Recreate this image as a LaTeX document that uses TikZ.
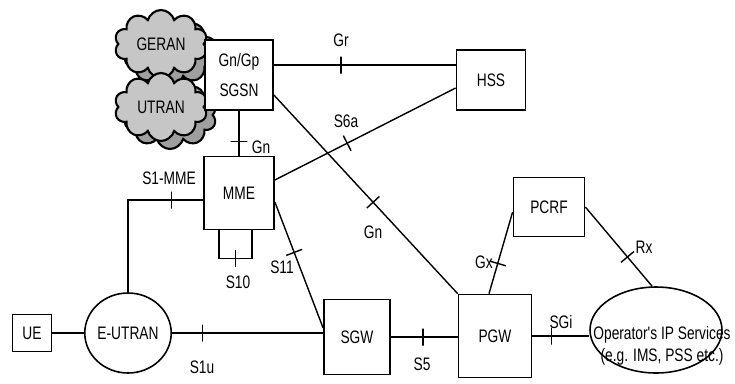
\documentclass[tikz,border=0pt]{standalone}
\usepackage{fontspec}
\setmainfont{Liberation Sans}
\newfontfamily\narrowsf{Liberation Sans}[FakeStretch=0.76]
\usepackage{tikz}
\usetikzlibrary{shapes.geometric,shapes.symbols,calc}

\tikzset{
  box/.style={draw, line width=1pt, fill=white, inner sep=0pt},
  ell/.style={draw, ellipse, line width=0.9pt, inner sep=0pt},
  cld/.style={draw, cloud, cloud puffs=10, cloud ignores aspect, line width=1.2pt,
    fill=gray!45, inner sep=0pt, minimum width=1.86cm, minimum height=1.36cm},
  cldshadow/.style={cld, fill=gray!75},
  link/.style={line width=0.8pt},
  tk/.style={sloped, draw, line width=0.8pt, inner sep=0pt, outer sep=0pt,
    minimum width=0pt, minimum height=0.34cm},
  lbl/.style={inner sep=0pt}
}

\begin{document}
\begin{tikzpicture}[x=0.02cm, y=-0.02cm,
  every node/.style={font=\narrowsf\fontsize{10.3}{12}\selectfont}]

% Frame
\useasboundingbox (0,0) rectangle (735,383);

% Radio clouds (with shadow)
\node[cldshadow] (geranS) at (170,52) {};
\node[cld] (geran) at (161,44) {GERAN};
\node[cldshadow] (utranS) at (170,115) {};
\node[cld] (utran) at (161,107) {UTRAN};

% Core boxes
\node[box, minimum width=1.36cm, minimum height=1.4cm, align=center,
  font=\narrowsf\fontsize{10.3}{17}\selectfont] (sgsn) at (239,75) {Gn/Gp\\SGSN};
\node[box, minimum width=1.38cm, minimum height=1.2cm] (hss) at (491,80) {HSS};
\node[box, minimum width=1.4cm, minimum height=1.46cm] (mme) at (239,193) {MME};
\node[box, minimum width=1.32cm, minimum height=1.5cm] (sgw) at (357,337) {SGW};
\node[box, minimum width=1.46cm, minimum height=1.66cm] (pgw) at (495,336) {PGW};
\node[box, minimum width=0.78cm, minimum height=0.74cm] (ue) at (32,333) {UE};
\node[box, minimum width=1.42cm, minimum height=1.18cm] (pcrf) at (549,207) {PCRF};

% Ellipses
\node[ell, minimum width=1.68cm, minimum height=1.6cm] (eutran) at (128,333) {E-UTRAN};
\node[ell, minimum width=2.64cm, minimum height=1.72cm] (ops) at (656,330) {};
\node[lbl, align=center, font=\narrowsf\fontsize{10.3}{12.5}\selectfont] (opstxt)
  at (662,346) {Operator's IP Services\\(e.g. IMS, PSS etc.)};

% Helper points on the boxes
\coordinate (grA) at ($(sgsn.east)+(0,-10)$);
\coordinate (gnA) at ($(sgsn.east)+(0,20)$);
\coordinate (s6A) at ($(mme.east)+(0,-13)$);
\coordinate (s6B) at ($(hss.west)+(0,8)$);
\coordinate (s1B) at ($(mme.west)+(0,7)$);
\coordinate (s10A) at ($(mme.south)+(-20,0)$);
\coordinate (s11A) at ($(mme.east)+(0,9)$);
\coordinate (s11B) at ($(sgw.west)+(0,-9)$);
\coordinate (gxA) at ($(pgw.north)+(-6,0)$);
\coordinate (gxB) at ($(pcrf.west)+(0,5)$);

% Interfaces
\draw[link] (grA) -- (grA -| hss.west) node[tk, pos=0.37] (tGr) {};
\draw[link] (sgsn.south) -- (sgsn.south |- mme.north) node[tk, pos=0.68] (tGn1) {};
\draw[link] (s6A) -- (s6B) node[tk, pos=0.4] (tS6a) {};
\draw[link] (gnA) -- (pgw.north west) node[tk, pos=0.54] (tGn2) {};
\draw[link] (eutran.north) |- (s1B) node[tk, pos=0.79] (tS1) {};
\draw[link] (s10A) -- ++(0,28) -- ++(33,0) node[tk, pos=0.5] (tS10) {} -- ++(0,-28);
\draw[link] (s11A) -- (s11B) node[tk, pos=0.4] (tS11) {};
\draw[link] (ue.east) -- (ue.east -| eutran.west);
\draw[link] (eutran.east) -- (eutran.east -| sgw.west) node[tk, pos=0.2] (tS1u) {};
\draw[link] (sgw.east) -- (sgw.east -| pgw.west) node[tk, pos=0.48] (tS5) {};
\draw[link] (pgw.east) -- (pgw.east -| ops.west) node[tk, pos=0.34] (tSGi) {};
\draw[link] (gxA) -- (gxB) node[tk, pos=0.37] (tGx) {};
\draw[link] (pcrf.east) -- (ops.95) node[tk, pos=0.63] (tRx) {};

% Labels
\node[lbl] (lGr) at (341,40) {Gr};
\node[lbl] (lGn1) at (261,147) {Gn};
\node[lbl] (lS6a) at (346,121) {S6a};
\node[lbl] (lGn2) at (373,232) {Gn};
\node[lbl] (lS1) at (169,178) {S1-MME};
\node[lbl] (lS10) at (238,282) {S10};
\node[lbl] (lS11) at (282,267) {S11};
\node[lbl] (lS1u) at (202,367) {S1u};
\node[lbl] (lS5) at (422,364) {S5};
\node[lbl] (lSGi) at (561,322) {SGi};
\node[lbl] (lGx) at (484,262) {Gx};
\node[lbl] (lRx) at (644,247) {Rx};

\end{tikzpicture}
\end{document}
